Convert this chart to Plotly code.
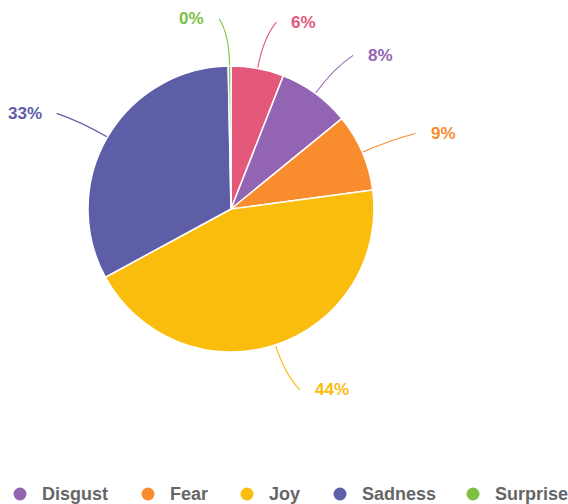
import math
import plotly.graph_objects as go

# Emotion counts shown as a pie, clockwise from 12 o'clock
emotions = ["Anger", "Disgust", "Fear", "Joy", "Sadness", "Surprise"]
counts = [19, 26, 28, 141, 104, 1]
colors = ["#E4587B", "#9264B1", "#F98C2D", "#FBBD0D", "#5D5EA7", "#7CC143"]

W, H = 568, 504
CX, CY, R = 231, 209, 143  # pie centre and radius in pixels

# legend row along the bottom (its first entry, Anger, sits past the left edge)
legend_names = emotions[1:]
legend_colors = colors[1:]
legend_marker_x = [20, 148, 247, 340, 473]
legend_y = 494

def px_to_paper(x, y):
    return x / W, 1 - y / H

fig = go.Figure()
fig.add_trace(go.Pie(
    labels=emotions,
    values=counts,
    sort=False,
    direction="clockwise",
    rotation=0,
    marker=dict(colors=colors, line=dict(color="white", width=1.5)),
    textinfo="none",
    hoverinfo="label+percent",
    showlegend=False,
    domain=dict(x=[(CX - R) / W, (CX + R) / W],
                y=[1 - (CY + R) / H, 1 - (CY - R) / H]),
))

total = sum(counts)
cum = 0
shapes = []
annotations = []
for name, v, col in zip(emotions, counts, colors):
    frac_mid = (cum + v / 2) / total
    cum += v
    theta = 2 * math.pi * frac_mid
    s, c = math.sin(theta), math.cos(theta)
    side = 1 if s >= 0 else -1

    def pt(k):
        return CX + k * R * s, CY - k * R * c

    x0, y0 = pt(1.0)
    x1, y1 = pt(1.22)
    x2, y2 = pt(1.33)
    x2 += side * 10
    p0 = px_to_paper(x0, y0)
    p1 = px_to_paper(x1, y1)
    p2 = px_to_paper(x2, y2)
    shapes.append(dict(
        type="path", xref="paper", yref="paper",
        path=f"M {p0[0]},{p0[1]} Q {p1[0]},{p1[1]} {p2[0]},{p2[1]}",
        line=dict(color=col, width=1.1), layer="below",
    ))
    pct = round(100 * v / total)
    annotations.append(dict(
        x=p2[0], y=p2[1], xref="paper", yref="paper",
        text=f"{pct}%", showarrow=False,
        xanchor="left" if side > 0 else "right", yanchor="middle",
        xshift=13 * side, yshift=0,
        font=dict(family="Liberation Sans", size=17, color=col, weight="bold"),
    ))

# bottom legend: coloured dot followed by the emotion name
for name, col, mx in zip(legend_names, legend_colors, legend_marker_x):
    cx, cy = px_to_paper(mx, legend_y)
    rx, ry = 6.5 / W, 6.5 / H
    shapes.append(dict(
        type="circle", xref="paper", yref="paper",
        x0=cx - rx, x1=cx + rx, y0=cy - ry, y1=cy + ry,
        fillcolor=col, line=dict(width=0),
    ))
    annotations.append(dict(
        x=(mx + 20) / W, y=cy, xref="paper", yref="paper",
        text=name, showarrow=False, xanchor="left", yanchor="middle",
        yshift=0,
        font=dict(family="Liberation Sans", size=18, color="#666666", weight="bold"),
    ))

fig.update_layout(
    width=W, height=H,
    margin=dict(l=0, r=0, t=0, b=0),
    paper_bgcolor="white", plot_bgcolor="white",
    shapes=shapes, annotations=annotations,
    showlegend=False,
)

fig.write_html("out.html")
